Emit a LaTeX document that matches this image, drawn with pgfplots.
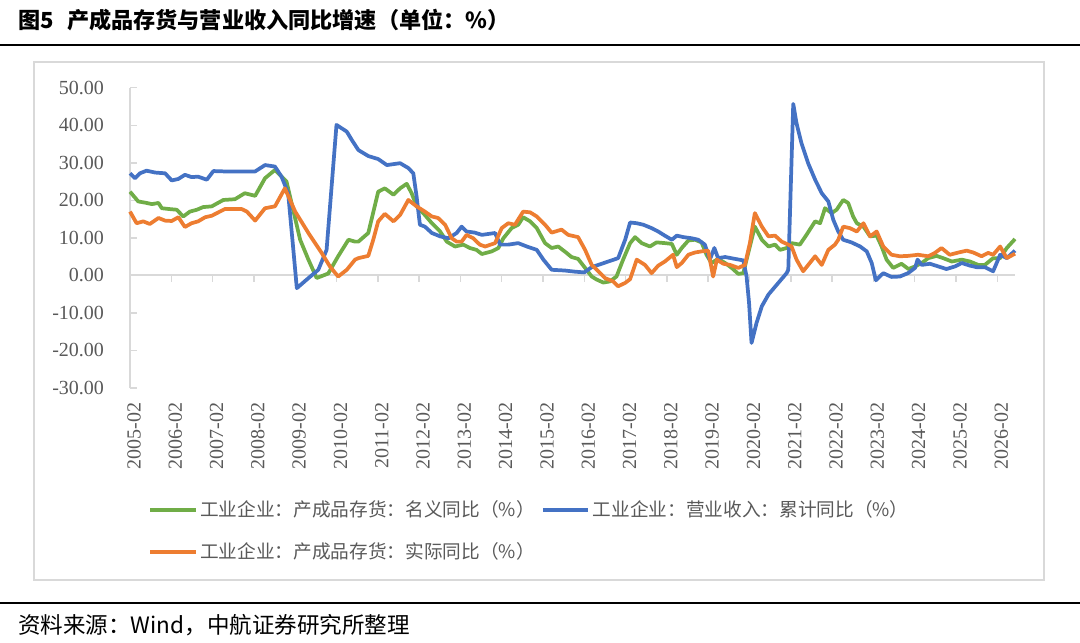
\documentclass[border=0pt]{standalone}
\usepackage{fontspec}
\setmainfont{Liberation Serif}
\newfontfamily\cjk{Noto Sans CJK SC}
\usepackage{pgfplots}
\pgfplotsset{compat=1.18}
\definecolor{cgreen}{HTML}{70AD47}
\definecolor{cblue}{HTML}{4472C4}
\definecolor{corange}{HTML}{ED7D31}
\definecolor{tgray}{HTML}{595959}
\definecolor{lgray}{HTML}{D9D9D9}
\begin{document}
\begin{tikzpicture}
\path[use as bounding box] (0,0) rectangle (810pt,-481.5pt);
\begin{scope}[x=0.75pt,y=-0.75pt]
\node[anchor=west,inner sep=0pt,font=\cjk\bfseries\fontsize{16.6pt}{18pt}\selectfont] at (18,20) {图5\hspace{0.6em}产成品存货与营业收入同比增速（单位：\%）};
\draw[line width=1.5pt] (0,45) -- (1080,45);
\draw[lgray,line width=1.1pt] (34,62) rectangle (1044,580);
\draw[line width=1.5pt] (0,603) -- (1080,603);
\node[anchor=west,inner sep=0pt,font=\cjk\fontsize{16.9pt}{18pt}\selectfont] at (18,625) {资料来源：Wind，中航证券研究所整理};
\end{scope}
\begin{axis}[
  at={(97.5pt,-291pt)}, anchor=south west,
  scale only axis, width=663.75pt, height=225.2pt,
  xmin=0, xmax=21.43, ymin=-30, ymax=50,
  clip=false,
  axis lines*=left,
  x axis line style={draw=none},
  y axis line style={lgray, line width=1.1pt},
  xtick={0,1,...,21},
  xticklabels={2005-02,2006-02,2007-02,2008-02,2009-02,2010-02,2011-02,2012-02,2013-02,2014-02,2015-02,2016-02,2017-02,2018-02,2019-02,2020-02,2021-02,2022-02,2023-02,2024-02,2025-02,2026-02},
  xtick style={draw=none},
  ytick={-30,-20,...,50},
  yticklabels={-30.00,-20.00,-10.00,0.00,10.00,20.00,30.00,40.00,50.00},
  ytick style={lgray, line width=1.1pt},
  tick align=inside,
  major tick length=5pt,
  ticklabel style={font=\fontsize{15pt}{18pt}\selectfont, text=tgray},
  xticklabel style={rotate=90, anchor=east, xshift=-7.5pt, yshift=-3pt},
  yticklabel style={xshift=-16pt},
  legend columns=2,
  legend cell align=left,
  legend style={at={(rel axis cs:0.0203,-0.3653)}, anchor=north west, draw=none, fill=none, inner sep=0pt,
    font=\cjk\fontsize{14pt}{16pt}\selectfont, text=tgray, row sep=14pt,
    /tikz/every even column/.append style={column sep=2.5pt}},
  legend image code/.code={\draw[#1, line width=3pt] (0pt,0pt) -- (34pt,0pt);},
]
\draw[lgray, line width=1.5pt] (axis cs:0,0) -- (axis cs:21.43,0);
\pgfplotsinvokeforeach{1,...,21}{\draw[lgray, line width=1.1pt] (axis cs:#1,0) -- ++(0pt,-5pt);}
\addplot[cgreen, line width=2.8pt, line join=round, no marks] coordinates {
(0.00,22.3)(0.20,19.7)(0.36,19.4)(0.53,19.0)(0.69,19.3)(0.77,17.9)(0.93,17.7)(1.13,17.5)(1.29,15.7)(1.45,17.0)
(1.62,17.5)(1.77,18.2)(1.98,18.4)(2.26,20.1)(2.54,20.3)(2.78,21.9)(3.03,21.2)(3.27,25.9)(3.51,28.1)(3.79,25.0)
(3.95,17.5)(4.12,9.5)(4.32,4.2)(4.52,-0.7)(4.80,0.5)(5.04,5.1)(5.29,9.5)(5.45,9.0)(5.53,9.0)(5.77,11.3)
(6.01,22.3)(6.17,23.2)(6.38,21.5)(6.54,23.2)(6.70,24.4)(6.82,21.9)(6.94,18.4)(7.14,16.1)(7.31,13.9)(7.51,11.7)
(7.67,9.0)(7.87,7.7)(8.07,8.2)(8.23,7.3)(8.39,6.8)(8.52,5.7)(8.76,6.4)(8.92,7.3)(9.04,9.9)(9.24,12.6)
(9.40,13.5)(9.52,15.5)(9.69,14.4)(9.85,12.6)(10.05,8.6)(10.21,7.3)(10.37,7.7)(10.57,6.0)(10.69,4.9)(10.85,4.4)
(11.02,2.0)(11.18,-0.3)(11.30,-1.1)(11.46,-1.9)(11.62,-1.6)(11.78,-0.3)(11.94,4.2)(12.11,8.6)(12.23,10.2)(12.39,8.6)
(12.59,7.7)(12.75,8.8)(12.95,8.6)(13.12,8.4)(13.24,5.5)(13.36,7.3)(13.52,9.3)(13.68,9.5)(13.84,8.8)(13.96,5.5)
(14.08,3.3)(14.24,4.4)(14.41,3.3)(14.57,2.0)(14.73,0.4)(14.85,0.6)(14.97,6.0)(15.13,13.0)(15.30,9.5)(15.46,7.7)
(15.62,8.2)(15.74,6.8)(15.90,7.3)(16.02,8.6)(16.22,8.2)(16.38,10.8)(16.59,14.4)(16.71,13.9)(16.83,17.9)(16.99,16.6)
(17.11,17.5)(17.27,20.1)(17.39,19.3)(17.51,15.7)(17.60,13.9)(17.76,13.0)(17.92,10.4)(18.08,10.6)(18.20,7.7)(18.32,4.2)
(18.48,2.0)(18.68,3.1)(18.85,1.7)(19.01,2.4)(19.17,3.3)(19.33,4.6)(19.53,5.2)(19.69,4.6)(19.90,3.7)(20.14,4.2)
(20.34,3.7)(20.54,2.8)(20.70,2.8)(20.90,4.6)(21.07,4.6)(21.23,7.3)(21.43,9.7)
};
\addlegendentry{工业企业：产成品存货：名义同比（\%）}
\addplot[cblue, line width=2.8pt, line join=round, no marks] coordinates {
(0.00,27.2)(0.12,25.9)(0.24,27.2)(0.40,27.9)(0.61,27.4)(0.85,27.2)(1.01,25.3)(1.17,25.7)(1.33,26.8)(1.49,26.2)
(1.65,26.3)(1.86,25.5)(2.02,27.8)(2.30,27.7)(3.03,27.7)(3.27,29.4)(3.51,29.0)(3.67,26.3)(3.83,21.9)(4.04,-3.4)
(4.28,-1.1)(4.56,1.5)(4.76,6.8)(5.00,40.1)(5.25,38.3)(5.37,36.1)(5.53,33.4)(5.77,31.8)(6.01,31.0)(6.22,29.4)
(6.54,29.9)(6.74,28.6)(6.86,27.2)(6.94,21.0)(7.02,13.5)(7.14,13.0)(7.31,11.3)(7.51,10.4)(7.71,9.9)(7.91,11.3)
(8.03,13.0)(8.15,11.7)(8.35,11.4)(8.52,10.8)(8.84,11.3)(8.96,8.2)(9.16,8.2)(9.40,8.6)(9.61,7.7)(9.85,6.8)
(10.01,4.2)(10.21,1.5)(10.53,1.3)(10.77,1.0)(11.00,0.8)(11.18,2.2)(11.34,2.8)(11.58,3.7)(11.82,4.6)(11.99,9.5)
(12.11,14.1)(12.27,13.9)(12.43,13.5)(12.63,12.6)(12.79,11.7)(12.95,10.6)(13.12,9.5)(13.24,10.6)(13.40,10.2)(13.60,9.9)
(13.76,9.5)(13.92,8.2)(14.04,4.2)(14.15,7.3)(14.24,4.6)(14.41,4.9)(14.65,4.4)(14.85,4.0)(14.93,-0.3)(14.99,-7.3)
(15.05,-18.0)(15.17,-12.7)(15.30,-8.2)(15.46,-5.1)(15.66,-2.5)(15.90,0.6)(15.94,1.5)(16.06,45.7)(16.14,40.5)(16.26,35.2)
(16.42,29.9)(16.59,25.5)(16.75,21.9)(16.91,19.7)(17.03,14.8)(17.15,11.7)(17.27,9.5)(17.47,8.8)(17.68,7.7)(17.84,6.4)
(17.96,3.3)(18.06,-1.3)(18.24,0.6)(18.44,-0.4)(18.64,-0.3)(18.84,0.6)(19.01,2.0)(19.07,4.2)(19.17,2.8)(19.37,3.1)
(19.57,2.4)(19.77,1.7)(19.98,2.4)(20.14,3.3)(20.34,2.6)(20.50,2.2)(20.70,2.2)(20.90,1.1)(21.07,5.5)(21.23,4.6)
(21.43,6.6)
};
\addlegendentry{工业企业：营业收入：累计同比（\%）}
\addplot[corange, line width=2.8pt, line join=round, no marks] coordinates {
(0.00,17.0)(0.16,13.9)(0.32,14.4)(0.48,13.7)(0.69,15.3)(0.85,14.6)(1.01,14.5)(1.17,15.5)(1.33,12.9)(1.49,13.9)
(1.65,14.4)(1.82,15.5)(1.98,15.9)(2.30,17.7)(2.70,17.7)(2.83,17.0)(3.03,14.6)(3.27,17.9)(3.51,18.4)(3.75,23.2)
(4.00,17.0)(4.32,11.3)(4.64,6.0)(4.84,2.4)(5.04,-0.3)(5.25,1.5)(5.45,4.2)(5.53,4.6)(5.77,5.2)(5.89,9.5)
(6.01,14.4)(6.17,16.4)(6.38,14.4)(6.54,16.1)(6.74,20.1)(6.94,18.4)(7.14,17.0)(7.31,15.7)(7.46,15.3)(7.63,13.5)
(7.79,9.9)(7.91,9.0)(8.03,9.0)(8.15,10.8)(8.31,9.9)(8.47,8.2)(8.60,7.7)(8.84,8.6)(9.00,12.6)(9.16,13.9)
(9.32,13.5)(9.52,17.0)(9.69,16.8)(9.85,15.7)(10.05,13.5)(10.21,11.4)(10.45,12.2)(10.61,10.8)(10.77,10.4)(10.85,10.2)
(11.02,6.8)(11.18,2.8)(11.34,1.1)(11.50,-0.7)(11.70,-1.6)(11.82,-2.9)(11.99,-2.0)(12.11,-1.0)(12.27,4.2)(12.47,2.8)
(12.63,0.6)(12.79,2.6)(12.95,3.7)(13.15,5.5)(13.24,2.2)(13.36,3.3)(13.52,5.5)(13.68,6.1)(13.84,6.4)(14.00,6.6)
(14.12,-0.3)(14.21,4.2)(14.37,3.1)(14.53,2.8)(14.73,2.0)(14.89,2.8)(15.01,8.6)(15.13,16.6)(15.30,13.0)(15.46,10.4)
(15.62,10.6)(15.78,9.0)(15.94,8.2)(16.02,7.7)(16.14,4.2)(16.30,1.1)(16.46,3.3)(16.59,5.1)(16.75,2.8)(16.91,6.8)
(17.07,8.2)(17.15,9.5)(17.27,13.0)(17.43,12.6)(17.60,11.7)(17.76,13.9)(17.92,10.4)(18.08,11.7)(18.24,7.7)(18.44,5.5)
(18.64,5.1)(18.84,5.2)(19.08,5.5)(19.33,5.1)(19.49,6.0)(19.65,7.3)(19.85,5.5)(20.06,6.1)(20.26,6.6)(20.42,6.1)
(20.62,5.1)(20.78,6.0)(20.90,5.5)(21.07,7.7)(21.23,4.6)(21.43,5.8)
};
\addlegendentry{工业企业：产成品存货：实际同比（\%）}
\end{axis}
\end{tikzpicture}
\end{document}
